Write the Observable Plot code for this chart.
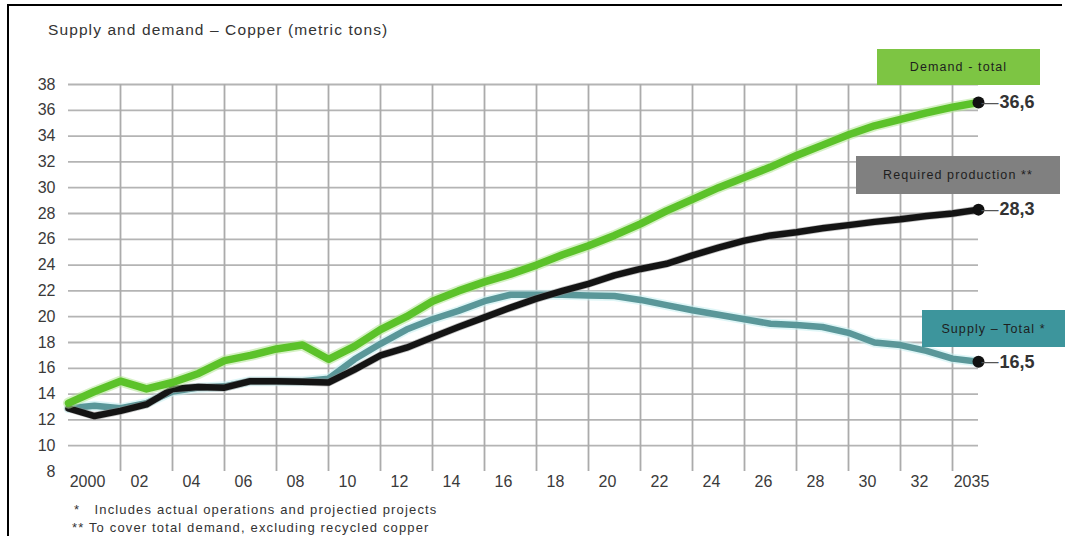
<!DOCTYPE html>
<html>
<head>
<meta charset="utf-8">
<script src="https://cdn.jsdelivr.net/npm/d3@7"></script>
<script src="https://cdn.jsdelivr.net/npm/@observablehq/plot@0.6"></script>
<style>
  html, body { margin: 0; padding: 0; background: #fff; }
  #wrap { position: relative; width: 1065px; height: 536px; overflow: hidden; background: #fff;
          font-family: "Liberation Sans", Arial, Helvetica, sans-serif; }
  #frame { position: absolute; left: 7px; top: 4px; width: 1053px; height: 560px;
           border-left: 2px solid #000; border-top: 2px solid #000; pointer-events: none; }
  #title { position: absolute; left: 48px; top: 21px; font-size: 15.5px; color: #333;
           letter-spacing: 1.1px; white-space: nowrap; }
  #chart { position: absolute; left: 0; top: 0; }
  .tag { position: absolute; display: flex; align-items: center; justify-content: center;
         font-size: 12.5px; letter-spacing: 1.1px; color: #1e1e1e; white-space: nowrap; }
  .note { position: absolute; font-size: 13px; color: #333; letter-spacing: 1.15px; white-space: pre; }
</style>
</head>
<body>
<div id="wrap">
  <div id="title">Supply and demand – Copper (metric tons)</div>
  <div id="chart"></div>
  <div class="tag" style="left:877px;top:49px;width:163px;height:36px;background:#7dc543;">Demand - total</div>
  <div class="tag" style="left:856px;top:156px;width:204px;height:38px;background:#808080;">Required production **</div>
  <div class="tag" style="left:922px;top:310px;width:143px;height:37px;background:#3d959c;">Supply – Total *</div>
  <div class="note" style="left:74px;top:502px;">*   Includes actual operations and projectied projects</div>
  <div class="note" style="left:72px;top:520px;">** To cover total demand, excluding recycled copper</div>
  <div id="frame"></div>
</div>
<script>
// Years on the horizontal axis
const years = [2000, 2001, 2002, 2003, 2004, 2005, 2006, 2007, 2008, 2009,
               2010, 2011, 2012, 2013, 2014, 2015, 2016, 2017, 2018, 2019,
               2020, 2021, 2022, 2023, 2024, 2025, 2026, 2027, 2028, 2029,
               2030, 2031, 2032, 2033, 2034, 2035];

// Demand - total
const demandTotal = [13.3, 14.2, 15.0, 14.4, 14.9, 15.6, 16.6, 17.0, 17.5, 17.8,
                     16.7, 17.7, 19.0, 20.0, 21.2, 22.0, 22.7, 23.3, 24.0, 24.8,
                     25.5, 26.3, 27.2, 28.2, 29.1, 30.0, 30.8, 31.6, 32.5, 33.3,
                     34.1, 34.8, 35.3, 35.8, 36.25, 36.6];

// Required production (to cover total demand, excluding recycled copper)
const requiredProduction = [12.9, 12.3, 12.7, 13.2, 14.4, 14.55, 14.5, 15.0, 15.0, 14.95,
                            14.9, 15.9, 17.0, 17.6, 18.4, 19.2, 19.95, 20.7, 21.4, 22.0,
                            22.55, 23.2, 23.7, 24.1, 24.75, 25.35, 25.9, 26.3, 26.55, 26.85,
                            27.1, 27.35, 27.55, 27.8, 28.0, 28.3];

// Supply - total (actual operations and projected projects)
const supplyTotal = [12.9, 13.1, 12.9, 13.3, 14.2, 14.5, 14.6, 15.0, 15.0, 15.0,
                     15.2, 16.7, 17.9, 19.0, 19.8, 20.45, 21.2, 21.7, 21.7, 21.7,
                     21.65, 21.6, 21.3, 20.9, 20.5, 20.15, 19.8, 19.45, 19.35, 19.2,
                     18.75, 18.0, 17.8, 17.35, 16.75, 16.5];

// Axis ticks and labels
const yTicks = [8, 10, 12, 14, 16, 18, 20, 22, 24, 26, 28, 30, 32, 34, 36, 38];
const xTickYears = [2000, 2002, 2004, 2006, 2008, 2010, 2012, 2014, 2016,
                    2018, 2020, 2022, 2024, 2026, 2028, 2030, 2032, 2034];
const xTickLabels = ["2000", "02", "04", "06", "08", "10", "12", "14", "16",
                     "18", "20", "22", "24", "26", "28", "30", "32", "2035"];
const gridYears = xTickYears.slice(1);

const series = [
  {key: "supply",   values: supplyTotal,        color: "#5a9799", width: 6.5, halo: "#c4eff1", haloWidth: 10},
  {key: "required", values: requiredProduction, color: "#141414", width: 6.5, halo: "#8c8c8c", haloWidth: 8},
  {key: "demand",   values: demandTotal,        color: "#5cc22a", width: 7.5, halo: "#b2e693", haloWidth: 11}
];

const rows = series.flatMap(s => years.map((year, i) => ({series: s.key, year, value: s.values[i]})));
const lastRows = series.map(s => ({series: s.key, year: years[years.length - 1], value: s.values[s.values.length - 1]}));

const tickLabel = new Map(xTickYears.map((y, i) => [y, xTickLabels[i]]));
const fmt = v => v.toFixed(1).replace(".", ",");

const lineMarks = series.flatMap(s => {
  const data = rows.filter(d => d.series === s.key);
  return [
    Plot.line(data, {x: "year", y: "value", stroke: s.halo, strokeWidth: s.haloWidth, strokeOpacity: 0.55,
                     strokeLinejoin: "round"}),
    Plot.line(data, {x: "year", y: "value", stroke: s.color, strokeWidth: s.width, strokeLinejoin: "round"})
  ];
});

const chart = Plot.plot({
  width: 1065,
  height: 536,
  marginLeft: 68,
  marginRight: 87,
  marginTop: 84,
  marginBottom: 65,
  style: {fontFamily: "'Liberation Sans', Arial, sans-serif", fontSize: "16px", color: "#3a3a3a",
          background: "transparent", overflow: "visible"},
  x: {domain: [years[0], years[years.length - 1]]},
  y: {domain: [yTicks[0], yTicks[yTicks.length - 1]]},
  marks: [
    Plot.ruleY(yTicks.slice(1), {x1: years[0], x2: years[years.length - 1], stroke: "#b4b4b4", strokeWidth: 1.8}),
    Plot.ruleX(gridYears, {y1: yTicks[0], y2: yTicks[yTicks.length - 1], stroke: "#ababab", strokeWidth: 1.8}),
    Plot.axisY(yTicks, {tickSize: 0, tickPadding: 13, fontSize: 16, fill: "#3a3a3a", label: null}),
    Plot.axisX(xTickYears, {tickSize: 0, tickPadding: 4, fontSize: 16, fill: "#3a3a3a", dx: 19,
                            tickFormat: d => tickLabel.get(d), label: null}),
    ...lineMarks,
    Plot.dot(lastRows, {x: "year", y: "value", r: 6, fill: "#111", stroke: "none"}),
    Plot.text(lastRows, {x: "year", y: "value", text: () => "—", textAnchor: "start", dx: 3,
                         fontSize: 17, fill: "#555"}),
    Plot.text(lastRows, {x: "year", y: "value", text: d => fmt(d.value), textAnchor: "start", dx: 21,
                         fontSize: 18, fontWeight: "bold", fill: "#333"})
  ]
});

document.getElementById("chart").appendChild(chart);
</script>
</body>
</html>
